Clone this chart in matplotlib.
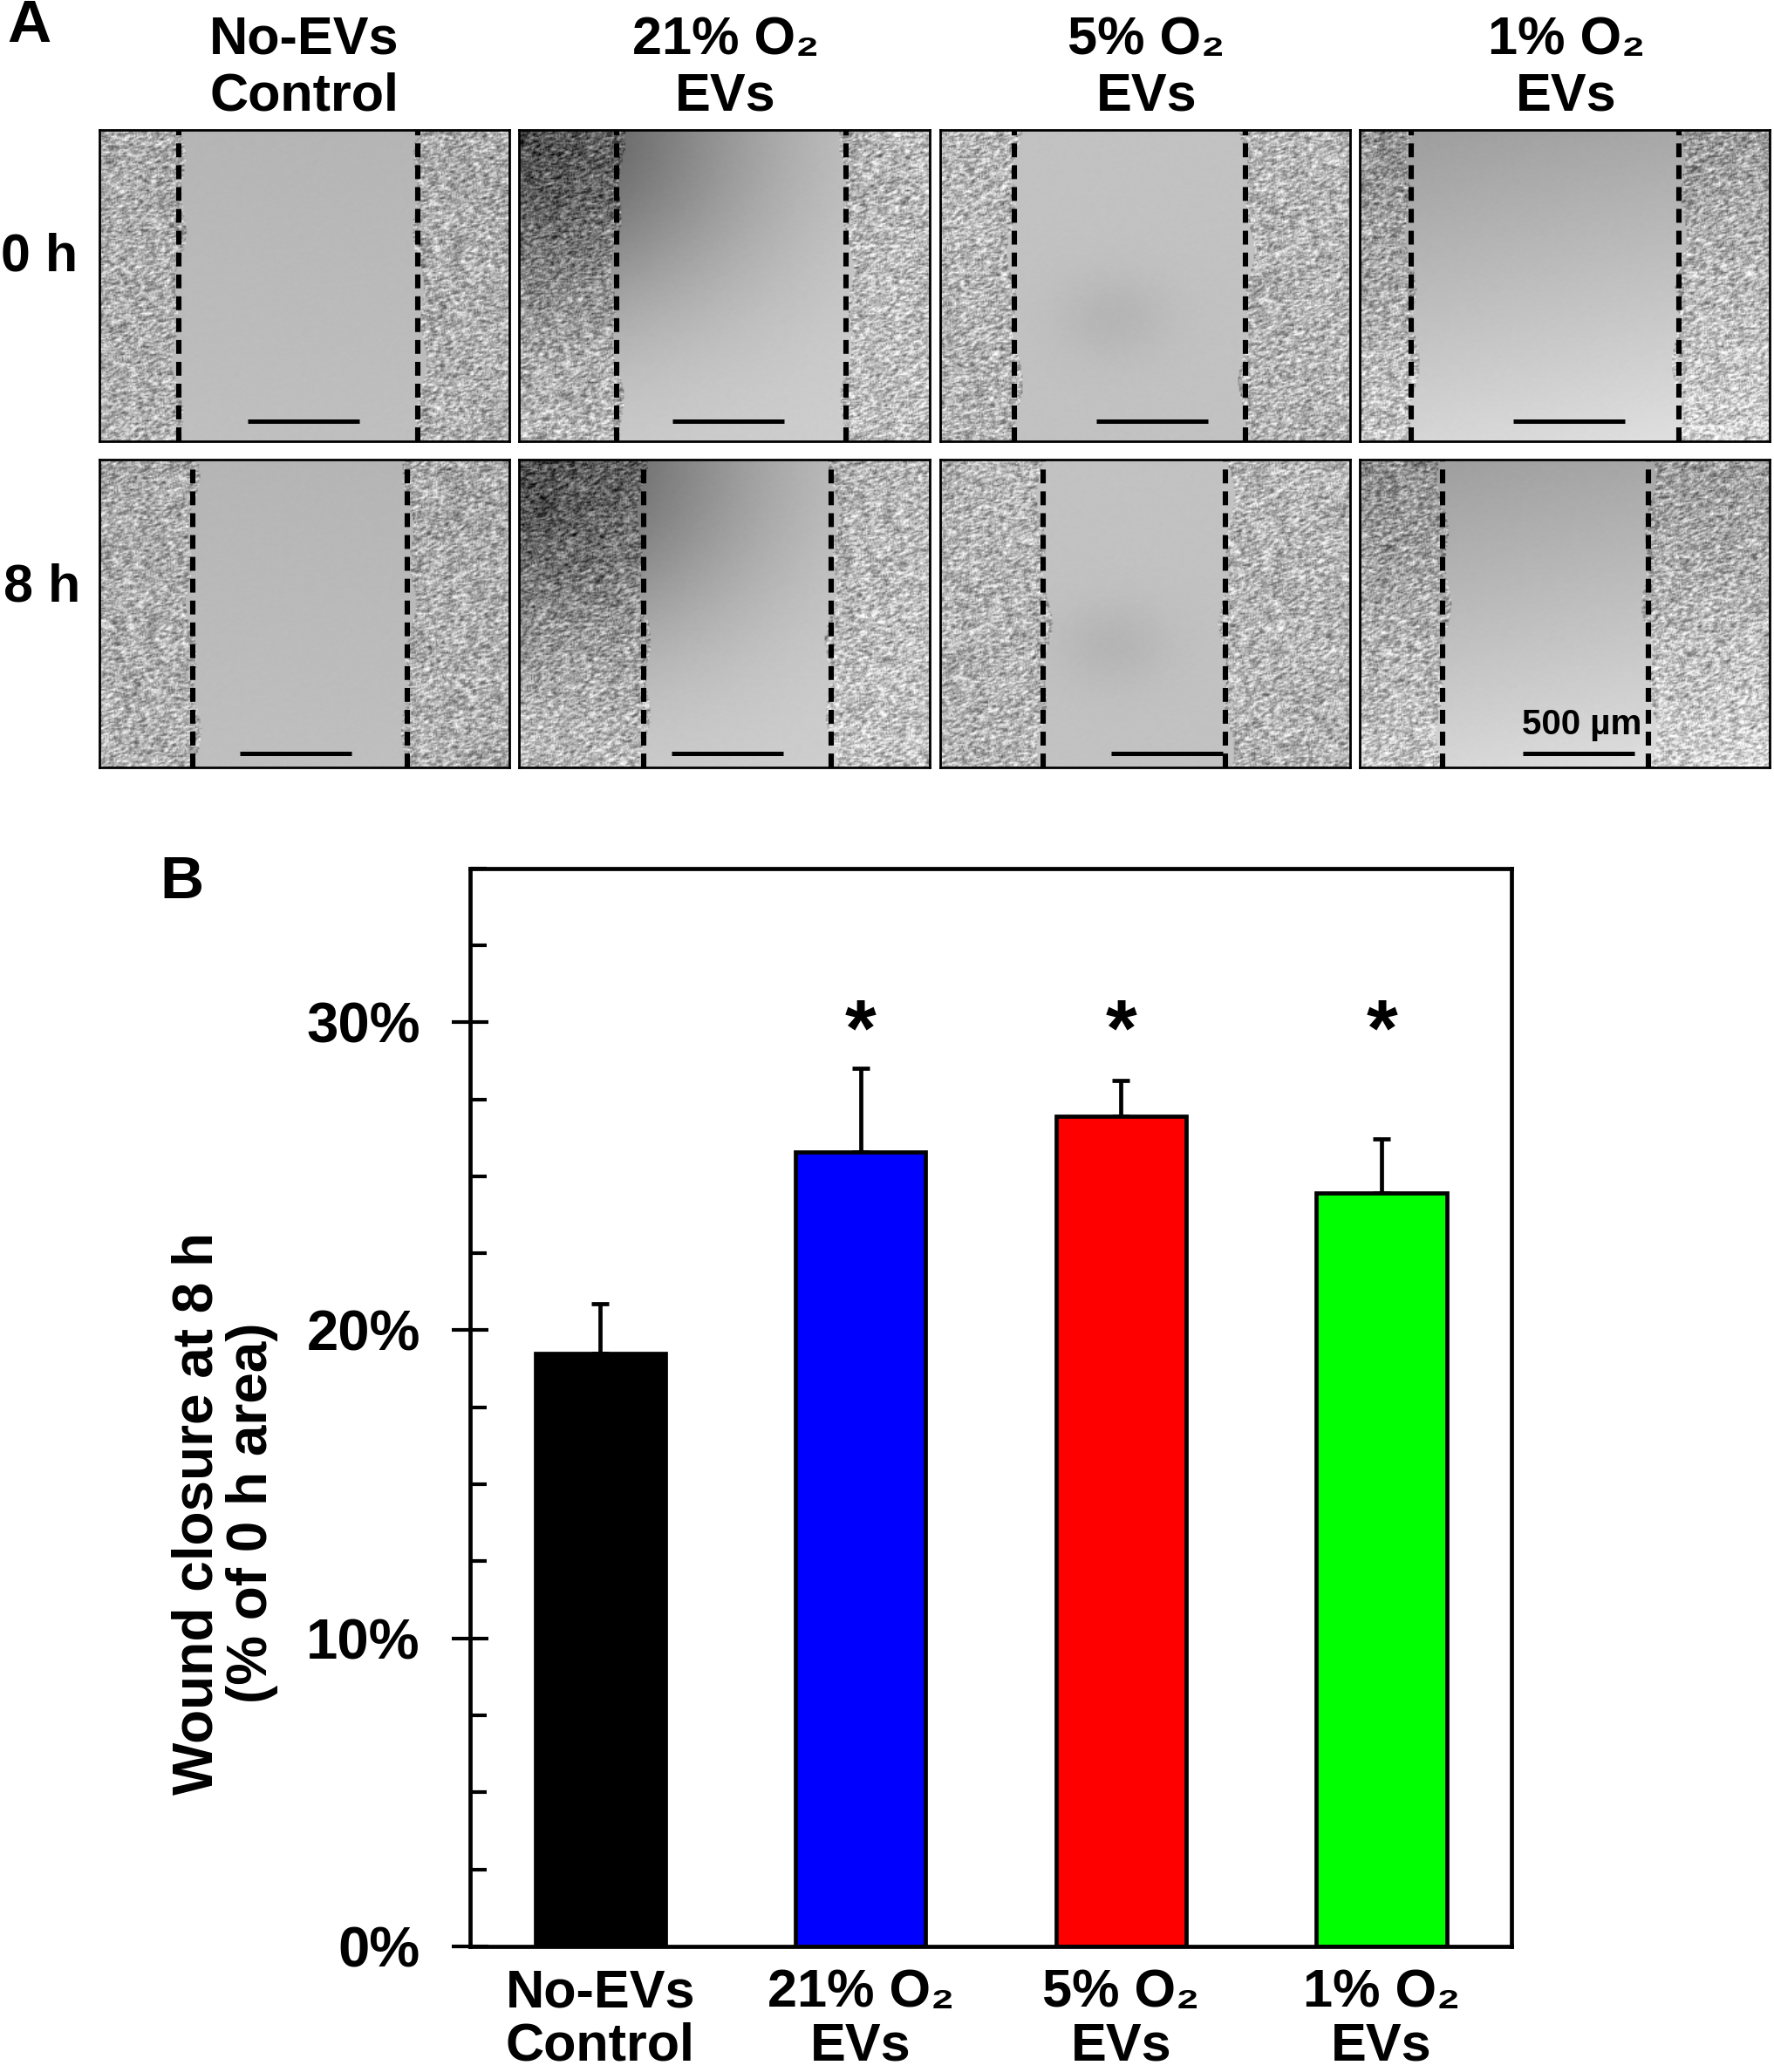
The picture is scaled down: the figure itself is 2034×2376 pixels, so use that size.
import numpy as np
import matplotlib
matplotlib.use("Agg")
import matplotlib.pyplot as plt
from matplotlib.ticker import MultipleLocator, FuncFormatter

plt.rcParams['font.family'] = ['Liberation Sans', 'DejaVu Sans']
plt.rcParams['font.weight'] = 'bold'

# ---- data ----
groups = ['No-EVs\nControl', '21% O₂\nEVs', '5% O₂\nEVs', '1% O₂\nEVs']
closure = [19.25, 25.8, 26.95, 24.45]        # % of 0 h area
closure_err = [1.6, 2.7, 1.15, 1.75]
signif = ['', '*', '*', '*']
bar_colors = ['#000000', '#0000ff', '#ff0000', '#00ff00']

row_titles = ['0 h', '8 h']
# wound edges (fraction of image width), rows = time points, cols = groups
edge_left = [[0.194, 0.239, 0.181, 0.126],
             [0.227, 0.304, 0.252, 0.203]]
edge_right = [[0.777, 0.796, 0.744, 0.777],
              [0.751, 0.760, 0.696, 0.703]]
scalebar_x = [[0.362, 0.375, 0.382, 0.374],
              [0.343, 0.372, 0.417, 0.397]]

W, H = 1340.0, 1568.0   # layout reference units


def rect(x0, y0, x1, y1):
    return [x0 / W, 1 - y1 / H, (x1 - x0) / W, (y1 - y0) / H]


def pt(x, y):
    return x / W, 1 - y / H


def texture(h, w, seed):
    yy, xx = np.mgrid[0:h, 0:w]
    n = np.sin(xx * 12.9898 + yy * 78.233 + seed * 3.7) * 43758.5453
    n = n - np.floor(n)
    n = (n + np.roll(n, 1, 0) + np.roll(n, 1, 1) + np.roll(n, 2, 1)) / 4.0
    return n


def micrograph(r, c):
    h, w = 236, 309
    yy, xx = np.mgrid[0:h, 0:w]
    xf = xx / w
    yf = yy / h
    if c == 1:
        bg = 0.82 - 0.45 * np.exp(-(xf ** 2 + yf ** 2) / 0.35)
    elif c == 3:
        bg = 0.62 + 0.22 * yf + 0.06 * xf
    elif c == 2:
        bg = 0.77 - 0.05 * np.exp(-((xf - 0.42) ** 2 + (yf - 0.6) ** 2) / 0.02)
    else:
        bg = 0.72 + 0.04 * yf
    wig = 0.012 * np.sin(yf * 7 + c + r * 2) + 0.008 * np.sin(yf * 23 + c)
    left = edge_left[r][c] + wig
    right = edge_right[r][c] - wig
    cells = (xf < left) | (xf > right)
    n = texture(h, w, r * 4 + c)
    img = bg + cells * (0.9 * (n - 0.5) - 0.06)
    img = img - (~cells) * 0.02 * n
    return img.clip(0, 1)


fig = plt.figure(figsize=(20.34, 23.76), dpi=100)

# ---- panel A ----
col_x = [75, 392, 710, 1027]
row_y = [(98, 334), (348, 581)]
for r in range(2):
    for c in range(4):
        x0 = col_x[c]
        y0, y1 = row_y[r]
        ax = fig.add_axes(rect(x0, y0, x0 + 310, y1))
        ax.imshow(micrograph(r, c), cmap='gray', vmin=0, vmax=1,
                  extent=[0, 1, 0, 1], aspect='auto', interpolation='bilinear')
        for e in (edge_left[r][c], edge_right[r][c]):
            ax.plot([e, e], [0, 1], color='black', lw=4.4,
                    dashes=(2.6, 1.5))
        sx = scalebar_x[r][c]
        sy = 0.064 if r == 0 else 0.047
        ax.plot([sx, sx + 0.272], [sy, sy], color='black', lw=3.6,
                solid_capstyle='butt')
        if r == 1 and c == 3:
            ax.text(sx + 0.145, sy + 0.04, '500 µm', ha='center', va='bottom',
                    fontsize=29, fontweight='bold')
        ax.set_xlim(0, 1)
        ax.set_ylim(0, 1)
        ax.set_xticks([])
        ax.set_yticks([])
        for s in ax.spines.values():
            s.set_linewidth(2.0)

col_cx = [230, 548, 866, 1183]
for c in range(4):
    fig.text(*pt(col_cx[c], 52), groups[c], ha='center', va='center',
             fontsize=44, fontweight='bold', linespacing=1.18)

fig.text(*pt(30, 195), row_titles[0], ha='center', va='center',
         fontsize=44, fontweight='bold')
fig.text(*pt(32, 445), row_titles[1], ha='center', va='center',
         fontsize=44, fontweight='bold')
fig.text(*pt(22, 20), 'A', ha='center', va='center', fontsize=50,
         fontweight='bold')

# ---- panel B ----
axb = fig.add_axes(rect(355, 657, 1142, 1473))
x = np.arange(len(groups))
axb.bar(x, closure, width=0.5, color=bar_colors, edgecolor='black',
        linewidth=3.4, zorder=2)
axb.errorbar(x, closure, yerr=[np.zeros(len(closure)), closure_err],
             fmt='none', ecolor='black', elinewidth=3.4, capsize=7.5,
             capthick=3.4, zorder=1)
for i, s in enumerate(signif):
    if s:
        axb.text(x[i], 29.6, s, ha='center', va='center', fontsize=66,
                 fontweight='bold')

axb.set_xlim(-0.5, 3.5)
axb.set_ylim(0, 35)
axb.yaxis.set_major_locator(MultipleLocator(10))
axb.yaxis.set_minor_locator(MultipleLocator(2.5))
axb.yaxis.set_major_formatter(FuncFormatter(lambda v, p: '%d%%' % v))
axb.set_xticks(x)
axb.set_xticklabels(groups, fontsize=44, fontweight='bold', linespacing=1.1)
axb.tick_params(axis='x', length=0, pad=18)
axb.tick_params(axis='y', which='major', direction='inout', length=30,
                width=3.0, labelsize=47, pad=26)
axb.tick_params(axis='y', which='minor', direction='in', length=14,
                width=3.0)
for lab in axb.get_yticklabels():
    lab.set_fontweight('bold')
for s in axb.spines.values():
    s.set_linewidth(3.4)

fig.text(*pt(170, 1145), 'Wound closure at 8 h\n(% of 0 h area)',
         rotation=90, ha='center', va='center', fontsize=46,
         fontweight='bold', linespacing=1.05, multialignment='center')
fig.text(*pt(137, 668), 'B', ha='center', va='center', fontsize=50,
         fontweight='bold')

fig.savefig('out.png', dpi=100)
